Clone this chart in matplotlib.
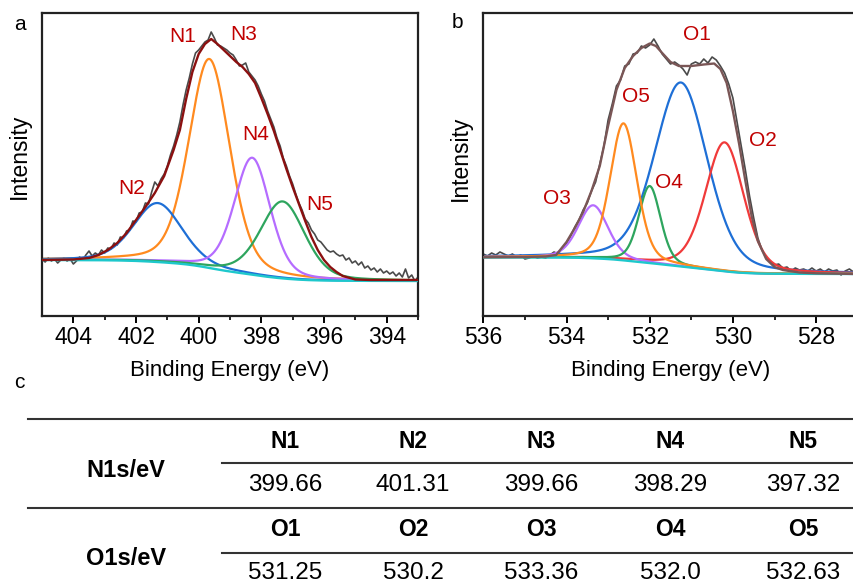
import numpy as np
import matplotlib
matplotlib.use('Agg')
import matplotlib.pyplot as plt
from matplotlib.lines import Line2D

plt.rcParams['font.family'] = ['Liberation Sans', 'DejaVu Sans']

#%% N1s spectrum (panel a)
n_energy = np.linspace(405, 393, 121)
n_raw = [57, 54, 58, 55, 57, 53, 56, 58, 55, 57,
         52, 55, 59, 56, 61, 65, 60, 63, 61, 66,
         63, 68, 67, 73, 71, 79, 78, 85, 86, 95,
         94, 103, 104, 113, 112, 124, 134, 130, 137, 142,
         150, 161, 170, 181, 194, 211, 226, 238, 252, 263,
         266, 270, 274, 276, 284, 278, 271, 270, 268, 266,
         263, 261, 256, 250, 251, 253, 244, 240, 236, 230,
         222, 215, 205, 197, 189, 178, 170, 158, 150, 140,
         132, 122, 113, 106, 97, 93, 86, 82, 76, 74,
         70, 66, 64, 65, 62, 60, 61, 56, 58, 53,
         55, 51, 54, 48, 50, 46, 48, 44, 47, 43,
         45, 42, 44, 40, 43, 39, 47, 38, 41, 35,
         39]
n_env_energy = [405.0, 404.0, 403.5, 403.2, 402.9, 402.6, 402.3, 402.0, 401.7, 401.4,
                401.1, 400.8, 400.6, 400.4, 400.2, 400.0, 399.8, 399.6, 399.4, 399.2,
                399.0, 398.8, 398.6, 398.4, 398.2, 398.0, 397.8, 397.6, 397.4, 397.2,
                397.0, 396.8, 396.6, 396.4, 396.2, 396.0, 395.8, 395.6, 395.4, 395.0,
                394.5, 393.0]
n_env = [56, 56.5, 58, 61, 66, 73, 83, 96, 109, 123,
         140, 166, 186, 217, 244, 262, 272, 277, 272, 266,
         260, 254, 249, 242, 233, 218, 202, 185, 166, 147,
         129, 112, 95, 79, 66, 56, 49, 44, 40, 36.5,
         36, 36]
n_labels = ['N1', 'N2', 'N3', 'N4', 'N5']
n_table = ['399.66', '401.31', '399.66', '398.29', '397.32']
# fitted peaks drawn (N3 shares N1 position)
n_fit = ['N1', 'N2', 'N4', 'N5']
n_heights = [209, 59, 117, 77]
n_fwhm = [1.54, 1.83, 1.35, 1.67]
n_bg = (56, 35)

#%% O1s spectrum (panel b)
o_energy = np.linspace(536, 527, 91)
o_raw = [62, 60, 63, 61, 64, 62, 60, 62, 59, 61,
         57, 58, 60, 58, 59, 58, 61, 64, 62, 68,
         73, 80, 89, 96, 106, 113, 125, 134, 152, 170,
         196, 212, 230, 236, 250, 252, 262, 263, 270, 268,
         271, 277, 270, 262, 257, 252, 254, 251, 247, 241,
         252, 254, 252, 257, 253, 259, 256, 250, 243, 232,
         218, 194, 170, 146, 120, 98, 78, 66, 58, 54,
         51, 52, 48, 49, 45, 48, 46, 47, 45, 48,
         45, 47, 44, 47, 45, 46, 41, 45, 47, 44,
         45]
o_env_energy = [536.0, 535.0, 534.5, 534.25, 534.0, 533.8, 533.6, 533.4, 533.2, 533.0,
                532.8, 532.6, 532.4, 532.2, 532.0, 531.85, 531.7, 531.5, 531.3, 531.0,
                530.7, 530.45, 530.3, 530.15, 530.0, 529.85, 529.7, 529.55, 529.4, 529.2,
                529.0, 528.8, 528.4, 528.0, 527.0]
o_env = [58.7, 59, 59.5, 61, 74, 88, 104, 125, 150, 190,
         226, 248, 260, 268, 272.5, 270, 263, 254, 250, 250,
         251.5, 252.5, 247, 233, 205, 172, 135, 100, 75, 57,
         49, 46, 43.5, 42.7, 42]
o_labels = ['O1', 'O2', 'O3', 'O4', 'O5']
o_table = ['531.25', '530.2', '533.36', '532.0', '532.63']
o_heights = [184, 129, 53, 77, 137]
o_fwhm = [1.5, 1.09, 0.84, 0.62, 0.76]
o_bg = (58.7, 42)


def pv(x, c, h, w, eta=0.3):
    g = np.exp(-4 * np.log(2) * (x - c) ** 2 / w ** 2)
    l = 1 / (1 + 4 * (x - c) ** 2 / w ** 2)
    return h * ((1 - eta) * g + eta * l)


def draw(ax, grid, raw_x, raw_y, env_x, env_y, centers, heights, widths,
         colors, bg_ends, env_color):
    comps = [pv(grid, c, h, w) for c, h, w in zip(centers, heights, widths)]
    total = np.sum(comps, axis=0)
    cum = np.cumsum(total[::-1])[::-1]
    bg = bg_ends[1] + (bg_ends[0] - bg_ends[1]) * cum / cum[0]
    ax.plot(raw_x, raw_y, color='#4a4a4a', lw=1.2, zorder=1)
    for comp, col in zip(comps, colors):
        ax.plot(grid, bg + comp, color=col, lw=1.6, zorder=2)
    ax.plot(grid, bg, color='#1ec8cc', lw=1.7, zorder=3)
    ax.plot(env_x, env_y, color=env_color, lw=1.7, zorder=4)


def style(ax, lo, hi):
    ax.set_xlim(hi, lo)
    ax.set_ylim(0, 303)
    ax.set_yticks([])
    ax.set_xticks(np.arange(lo + (lo % 2), hi + 0.1, 2))
    ax.set_xticks(np.arange(lo + 1 - (lo % 2), hi, 2), minor=True)
    ax.tick_params(axis='x', which='major', direction='out', length=5, width=1.4,
                   labelsize=16.5, pad=2)
    ax.tick_params(axis='x', which='minor', direction='out', length=3, width=1.2)
    for s in ax.spines.values():
        s.set_linewidth(1.6)
        s.set_color('#222222')
    ax.set_xlabel('Binding Energy (eV)', fontsize=16, va='center')
    ax.set_ylabel('Intensity', fontsize=16.5, va='center')


W, H = 854, 587
fig = plt.figure(figsize=(W / 100, H / 100), dpi=100)
ax_a = fig.add_axes([42 / W, 1 - 316 / H, 376 / W, 303 / H])
ax_b = fig.add_axes([483.3 / W, 1 - 316 / H, 374.4 / W, 303 / H])

orange, blue, purple, green, red = '#ff8a1f', '#1e6fd6', '#b56cff', '#2ea55e', '#f03a3a'

n_centers = [float(n_table[n_labels.index(k)]) for k in n_fit]
draw(ax_a, np.linspace(405, 393, 1201), n_energy, n_raw, n_env_energy, n_env,
     n_centers, n_heights, n_fwhm, [orange, blue, purple, green], n_bg, '#8b1010')
draw(ax_b, np.linspace(536, 527, 901), o_energy, o_raw, o_env_energy, o_env,
     [float(v) for v in o_table], o_heights, o_fwhm,
     [blue, red, purple, green, orange], o_bg, '#7a5656')
style(ax_a, 393, 405)
style(ax_b, 527, 536)

ax_a.xaxis.set_label_coords(0.499, -0.18)
ax_a.yaxis.set_label_coords(-0.061, 0.526)
ax_b.xaxis.set_label_coords(0.501, -0.18)
ax_b.yaxis.set_label_coords(-0.0614, 0.521)

lab_red = '#c00000'
for name, (x, y) in zip(['N1', 'N3', 'N4', 'N2', 'N5'],
                        [(400.52, 280), (398.57, 281), (398.17, 181), (402.15, 128), (396.14, 111)]):
    ax_a.text(x, y, name, color=lab_red, fontsize=15, ha='center', va='center')
for name, (x, y) in zip(['O1', 'O5', 'O2', 'O4', 'O3'],
                        [(530.87, 281), (532.34, 219), (529.29, 176), (531.53, 133), (534.24, 118)]):
    ax_b.text(x, y, name, color=lab_red, fontsize=15, ha='center', va='center')


def fpos(x, y):
    return x / W, 1 - y / H


fig.text(*fpos(20, 24), 'a', fontsize=15, ha='center', va='center')
fig.text(*fpos(457, 23), 'b', fontsize=15, ha='center', va='center')
fig.text(*fpos(19, 383), 'c', fontsize=15, ha='center', va='center')

# table (panel c)
def hline(x0, y):
    fig.add_artist(Line2D([x0 / W, 1], [1 - y / H] * 2, transform=fig.transFigure,
                          color='#333333', lw=1.5))


hline(28, 419.3)
hline(222, 463.3)
hline(28, 507.7)
hline(222, 552.7)

col_x = [285, 413, 541, 670, 803]
for rows, vals, y_head, y_val, y_lab, row_name in [
        (n_labels, n_table, 441, 485, 470.7, 'N1s/eV'),
        (o_labels, o_table, 529, 573.3, 558.3, 'O1s/eV')]:
    fig.text(*fpos(126, y_lab), row_name, fontsize=17, fontweight='bold',
             ha='center', va='center')
    for cx, head, val in zip(col_x, rows, vals):
        fig.text(*fpos(cx, y_head), head, fontsize=16.5, fontweight='bold',
                 ha='center', va='center')
        fig.text(*fpos(cx, y_val), val, fontsize=17.5, ha='center', va='center')

fig.savefig('out.png', dpi=100)
